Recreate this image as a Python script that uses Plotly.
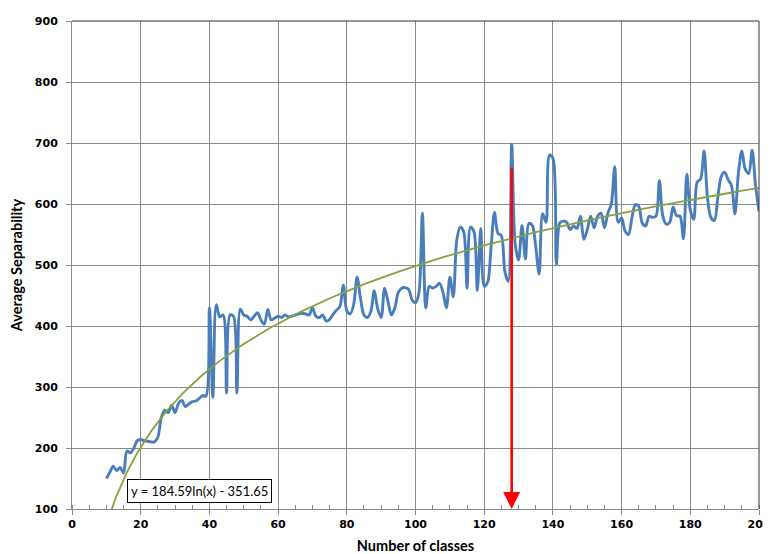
import plotly.graph_objects as go
import numpy as np

# ---- data ----
num_classes = list(range(10, 201))
avg_separability = [
    150, 160, 170, 163, 168, 159, 195, 192, 200, 212,   # 10-19
    214, 212, 211, 210, 210, 218, 250, 262, 258, 270,   # 20-29
    258, 273, 278, 268, 272, 276, 277, 281, 286, 285,   # 30-39
    430, 283, 435, 415, 418, 290, 418, 416, 290, 428,   # 40-49
    418, 416, 410, 416, 422, 410, 403, 427, 410, 413,   # 50-59
    416, 414, 418, 415, 416, 418, 420, 421, 420, 418,   # 60-69
    430, 416, 414, 418, 408, 411, 419, 426, 432, 467,   # 70-79
    425, 420, 435, 480, 445, 418, 414, 424, 458, 428,   # 80-89
    414, 462, 440, 418, 430, 455, 462, 463, 460, 443,   # 90-99
    438, 455, 585, 430, 465, 462, 465, 470, 455, 430,   # 100-109
    480, 448, 540, 562, 555, 462, 562, 555, 458, 560,   # 110-119
    465, 472, 530, 586, 552, 548, 490, 473, 698, 535,   # 120-129
    508, 565, 510, 568, 565, 530, 485, 584, 570, 680,   # 130-139
    675, 501, 569, 572, 570, 558, 564, 560, 580, 542,   # 140-149
    558, 580, 561, 580, 585, 561, 585, 600, 661, 570,   # 150-159
    577, 556, 550, 577, 599, 596, 569, 564, 580, 578,   # 160-169
    580, 638, 580, 567, 570, 595, 581, 580, 543, 649,   # 170-179
    590, 575, 636, 641, 687, 610, 578, 573, 610, 645,   # 180-189
    652, 640, 630, 584, 650, 687, 657, 650, 688, 630,   # 190-199
    588,                                                # 200
]

# logarithmic trendline shown on the chart: y = a*ln(x) + b
trend_a = 184.59
trend_b = -351.65
trend_label = "y = 184.59ln(x) - 351.65"

marker_class = 128  # red arrow position
x_ticks = list(range(0, 201, 20))
y_ticks = list(range(100, 901, 100))

trend_x = np.linspace(10, 200, 400)
trend_y = trend_a * np.log(trend_x) + trend_b

fig = go.Figure()
fig.add_trace(go.Scatter(
    x=num_classes, y=avg_separability, mode="lines",
    line=dict(color="#4A7EBB", width=2.9, shape="spline", smoothing=0.9),
    showlegend=False, hoverinfo="x+y"))
fig.add_trace(go.Scatter(
    x=trend_x, y=trend_y, mode="lines",
    line=dict(color="#86A23E", width=1.8),
    showlegend=False, hoverinfo="skip"))

grid = "#8a8a8a"
tickfont = dict(family="DejaVu Sans", size=11, color="#000000", weight="bold")
titlefont = dict(family="Lato", size=14.5, color="#000000", weight="bold")

fig.update_xaxes(
    range=[0, 200], tickvals=x_ticks, showgrid=True, gridcolor=grid, gridwidth=1,
    showline=True, linecolor=grid, linewidth=1, zeroline=False, automargin=False,
    ticks="outside", ticklen=5, tickcolor=grid, tickfont=tickfont,
    minor=dict(dtick=5, ticks="inside", ticklen=4, tickcolor=grid, showgrid=False),
    title=dict(text="Number of classes", font=titlefont, standoff=13),
)
fig.update_yaxes(
    range=[100, 900], tickvals=y_ticks, showgrid=True, gridcolor=grid, gridwidth=1,
    showline=True, linecolor=grid, linewidth=1, zeroline=False, automargin=False,
    ticks="outside", ticklen=5, tickcolor=grid, tickfont=tickfont,
    ticklabelstandoff=6,
    title=dict(text="Average Separability", font=titlefont, standoff=10),
)

# darker top / right border
fig.add_shape(type="line", xref="paper", yref="paper", x0=0, x1=1, y0=1, y1=1,
              line=dict(color="#333333", width=1))
fig.add_shape(type="line", xref="paper", yref="paper", x0=1, x1=1, y0=0, y1=1,
              line=dict(color="#333333", width=1))

# red arrow
fig.add_annotation(x=marker_class, y=100, ax=marker_class, ay=662,
                   xref="x", yref="y", axref="x", ayref="y",
                   text="", showarrow=True, arrowhead=2, arrowsize=1.3,
                   arrowwidth=2.6, arrowcolor="#FF0000", standoff=0)

# trendline equation label
fig.add_annotation(x=37.0, y=129, xref="x", yref="y", text=trend_label,
                   showarrow=False, font=dict(family="Lato", size=13, color="#000000"),
                   bgcolor="#FFFFFF", bordercolor="#000000", borderwidth=1, borderpad=3)

# page body has an 8px margin, so the figure is sized/offset to land on the reference
fig.update_layout(
    width=763, height=546,
    margin=dict(l=64, r=12, t=13, b=45),
    plot_bgcolor="#FFFFFF", paper_bgcolor="#FFFFFF",
)

fig.write_html("out.html")
